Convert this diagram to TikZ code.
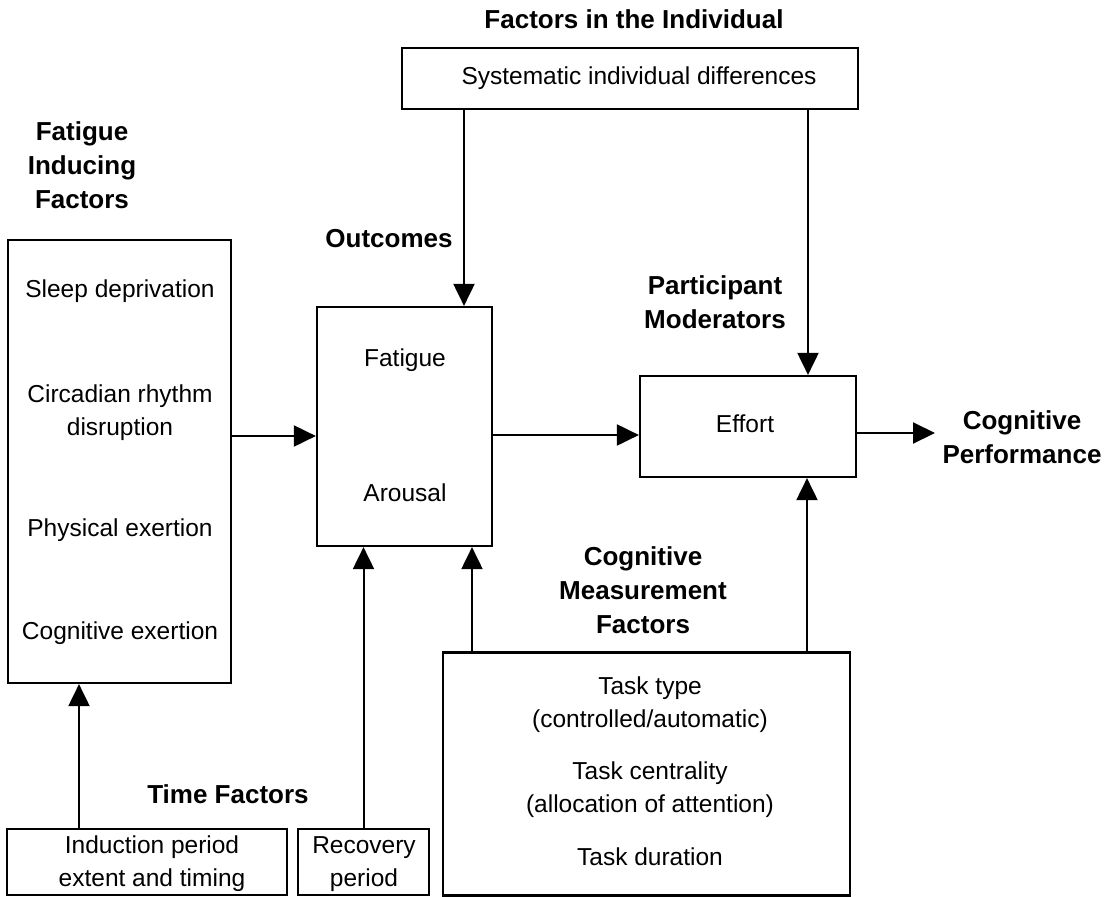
\documentclass[tikz,border=0pt]{standalone}
\usepackage{fontspec}
\setmainfont{Liberation Sans}
\usetikzlibrary{arrows.meta}
\begin{document}
\begin{tikzpicture}[x=1pt,y=-1pt,
  box/.style={draw, line width=2.2pt, inner sep=0pt},
  txt/.style={font=\fontsize{24.5}{33}\selectfont, align=center, inner sep=0pt, text height=17pt, text depth=5pt},
  txtm/.style={font=\fontsize{24.5}{33}\selectfont, align=center, inner sep=0pt},
  hdr/.style={font=\fontsize{26}{34}\selectfont\bfseries, align=center, inner sep=0pt},
  arr/.style={line width=2pt, -{Triangle[length=22pt,width=21pt]}}]
\useasboundingbox (0,0) rectangle (1112,897);
% boxes
\node[box, minimum width=456pt, minimum height=61pt] (top) at (630,78.5) {};
\node[box, minimum width=223pt, minimum height=443pt] (lbox) at (119.5,461.5) {};
\node[box, minimum width=175pt, minimum height=239pt] (obox) at (404.5,426.5) {};
\node[box, minimum width=216pt, minimum height=101pt] (effort) at (748,426.5) {};
\node[box, minimum width=407pt, minimum height=243pt] (meas) at (646.5,774) {};
\node[box, minimum width=280pt, minimum height=66pt] (ind) at (147,862) {};
\node[box, minimum width=131pt, minimum height=66pt] (rec) at (363.5,862) {};
% headers
\node[hdr] (hind) at (634,19) {Factors in the Individual};
\node[hdr] (hfat) at (82,165) {Fatigue\\Inducing\\Factors};
\node[hdr] (hout) at (389,239) {Outcomes};
\node[hdr] (hpart) at (715,302) {Participant\\Moderators};
\node[hdr] (perf) at (1022,437) {Cognitive\\Performance};
\node[hdr] (hcog) at (643,590) {Cognitive\\Measurement\\Factors};
\node[hdr] (htime) at (228,794) {Time Factors};
% box texts
\node[txt] (t1) at (639,78) {Systematic individual differences};
\node[txt] (l1) at (120,291) {Sleep deprivation};
\node[txtm] (l2) at (120,413) {Circadian rhythm\\disruption};
\node[txt] (l3) at (120,530) {Physical exertion};
\node[txt] (l4) at (120,633) {Cognitive exertion};
\node[txt] (o1) at (405,360) {Fatigue};
\node[txt] (o2) at (405,495) {Arousal};
\node[txt] (e1) at (745,426) {Effort};
\node[txtm] (m1) at (650,705) {Task type\\(controlled/automatic)};
\node[txtm] (m2) at (650,790) {Task centrality\\(allocation of attention)};
\node[txt] (m3) at (650,859) {Task duration};
\node[txtm] (i1) at (152,864) {Induction period\\extent and timing};
\node[txtm] (r1) at (364,864) {Recovery\\period};
% connectors
\draw[arr] (lbox.east |- 0,436) -- (obox.west |- 0,436);
\draw[arr] (obox.east |- 0,435) -- (effort.west |- 0,435);
\draw[arr] (effort.east |- 0,433) -- (935,433) coordinate (pend);
\draw[arr] (top.south -| 464,0) -- (obox.north -| 464,0);
\draw[arr] (top.south -| 808,0) -- (effort.north -| 808,0);
\draw[arr] (ind.north -| 79,0) -- (lbox.south -| 79,0);
\draw[arr] (rec.north) -- (obox.south -| rec.north);
\draw[arr] (meas.north -| 472,0) -- (obox.south -| 472,0);
\draw[arr] (meas.north -| 807,0) -- (effort.south -| 807,0);
\end{tikzpicture}
\end{document}
